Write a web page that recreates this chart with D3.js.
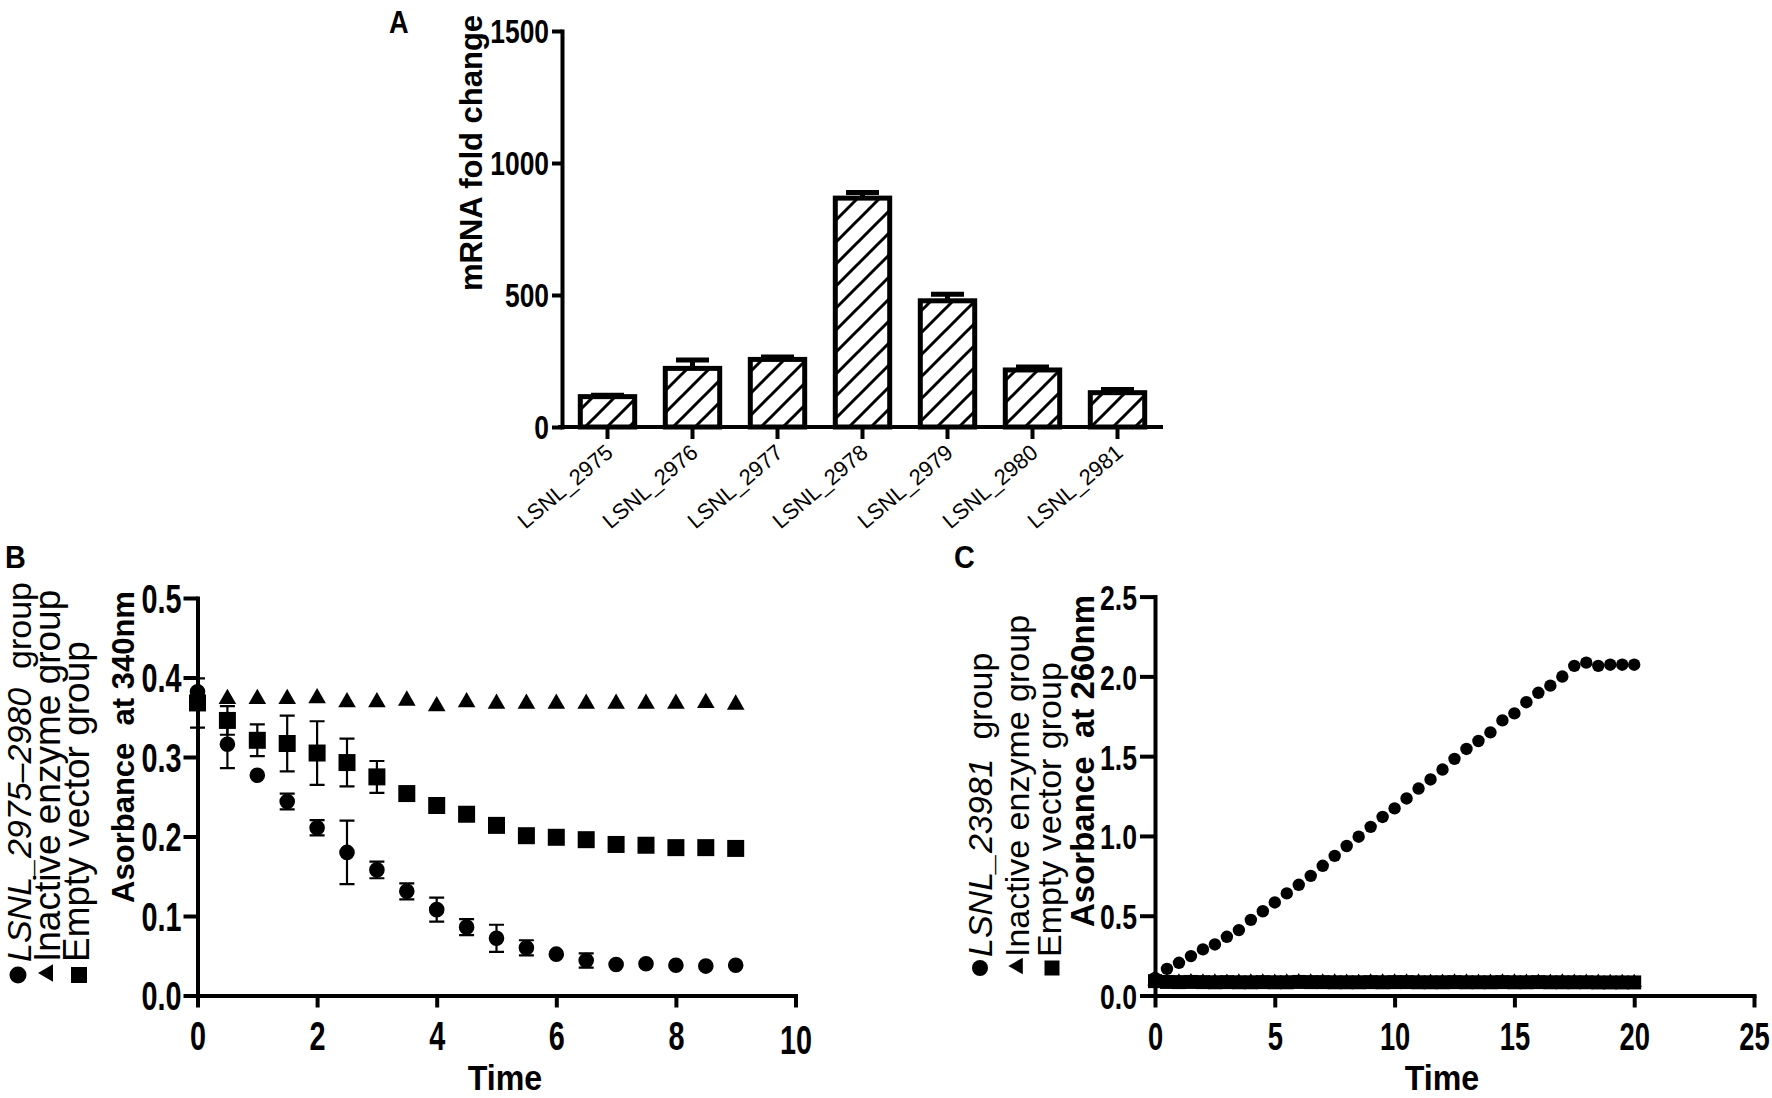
<!DOCTYPE html>
<html>
<head>
<meta charset="utf-8">
<script src="https://cdn.jsdelivr.net/npm/d3@7"></script>
<style>
  body { margin: 0; background: #fff; }
  svg { display: block; }
  text { font-family: "Liberation Sans", Arial, sans-serif; fill: #000; }
</style>
</head>
<body>
<svg id="fig" width="1772" height="1098"></svg>
<script>
// ---- panel A: mRNA fold change ----
const genes = ['LSNL_2975', 'LSNL_2976', 'LSNL_2977', 'LSNL_2978', 'LSNL_2979', 'LSNL_2980', 'LSNL_2981'];
const foldChange = [115, 222, 256, 867, 478, 216, 130];
const foldErr = [5, 32, 9, 21, 25, 11, 12];
const ticksA = [0, 500, 1000, 1500];

// ---- panel B: absorbance at 340nm ----
const timeB = [0, 0.5, 1, 1.5, 2, 2.5, 3, 3.5, 4, 4.5, 5, 5.5, 6, 6.5, 7, 7.5, 8, 8.5, 9];
const activeB = [0.382, 0.316, 0.277, 0.244, 0.211, 0.180, 0.158, 0.131, 0.108, 0.086, 0.072, 0.060, 0.052, 0.044, 0.039, 0.040, 0.038, 0.037, 0.038];
const activeErrB = [0, 0.030, 0, 0.010, 0.0095, 0.040, 0.0105, 0.010, 0.015, 0.010, 0.017, 0.0095, 0, 0.009, 0, 0, 0, 0, 0];
const inactiveB = [0.375, 0.373, 0.373, 0.373, 0.374, 0.369, 0.369, 0.371, 0.364, 0.369, 0.367, 0.367, 0.367, 0.367, 0.367, 0.367, 0.367, 0.368, 0.366];
const emptyB = [0.368, 0.346, 0.321, 0.317, 0.305, 0.293, 0.275, 0.254, 0.239, 0.228, 0.214, 0.201, 0.199, 0.196, 0.190, 0.189, 0.186, 0.186, 0.185];
const emptyErrB = [0.031, 0.018, 0.020, 0.035, 0.040, 0.030, 0.020, 0, 0, 0, 0, 0, 0, 0, 0, 0, 0, 0, 0];
const ticksBy = [0, 0.1, 0.2, 0.3, 0.4, 0.5];
const ticksBx = [0, 2, 4, 6, 8, 10];

// ---- panel C: absorbance at 260nm ----
const timeC = [0, 0.5, 1, 1.5, 2, 2.5, 3, 3.5, 4, 4.5, 5, 5.5, 6, 6.5, 7, 7.5, 8, 8.5, 9, 9.5, 10,
  10.5, 11, 11.5, 12, 12.5, 13, 13.5, 14, 14.5, 15, 15.5, 16, 16.5, 17, 17.5, 18, 18.5, 19, 19.5, 20];
const activeC = [0.11, 0.167, 0.205, 0.247, 0.289, 0.32, 0.368, 0.41, 0.474, 0.528, 0.583, 0.64, 0.694, 0.75, 0.813,
  0.875, 0.937, 0.995, 1.057, 1.119, 1.173, 1.235, 1.297, 1.354, 1.416, 1.483, 1.545, 1.595, 1.649, 1.724, 1.768,
  1.838, 1.897, 1.942, 1.999, 2.066, 2.086, 2.066, 2.073, 2.073, 2.073];
const inactiveC = [0.09, 0.085, 0.085, 0.086, 0.085, 0.084, 0.083, 0.084, 0.085, 0.084, 0.083, 0.084, 0.086, 0.085, 0.084,
  0.084, 0.083, 0.083, 0.084, 0.085, 0.085, 0.084, 0.084, 0.083, 0.083, 0.084, 0.084, 0.083, 0.083, 0.084, 0.084,
  0.083, 0.083, 0.083, 0.084, 0.083, 0.083, 0.083, 0.082, 0.082, 0.082];
const emptyC = [0.09, 0.085, 0.084, 0.085, 0.084, 0.083, 0.084, 0.083, 0.083, 0.084, 0.083, 0.083, 0.085, 0.084, 0.084,
  0.083, 0.083, 0.083, 0.084, 0.083, 0.084, 0.084, 0.083, 0.083, 0.083, 0.084, 0.083, 0.083, 0.083, 0.084, 0.083,
  0.083, 0.084, 0.083, 0.083, 0.083, 0.083, 0.082, 0.082, 0.082, 0.082];
const ticksCy = [0, 0.5, 1, 1.5, 2, 2.5];
const ticksCx = [0, 5, 10, 15, 20, 25];

const svg = d3.select('#fig');
const FONT = '"Liberation Sans", Arial, sans-serif';

function label(g, x, y, str, o) {
  return g.append('text')
    .attr('transform', `translate(${x},${y}) rotate(${o.rotate || 0}) scale(${o.narrow || 1},1)`)
    .attr('text-anchor', o.anchor || 'start')
    .style('font-size', o.size + 'px')
    .style('font-weight', o.bold ? 'bold' : 'normal')
    .style('white-space', 'pre')
    .text(str);
}

function styleAxis(g, width) {
  g.selectAll('path, line').attr('stroke', '#000').attr('stroke-width', width);
  g.select('.domain').attr('stroke-linecap', 'square');
}

function leftTicks(g, size, n, off) {
  g.selectAll('.tick text')
    .attr('transform', `scale(${n},1)`)
    .attr('x', -off / n)
    .attr('dy', '0.36em')
    .style('font-size', size + 'px')
    .style('font-weight', 'bold')
    .style('font-family', FONT);
}

function bottomTicks(g, size, n, base) {
  g.selectAll('.tick text')
    .attr('transform', `scale(${n},1)`)
    .attr('y', base)
    .attr('dy', 0)
    .style('font-size', size + 'px')
    .style('font-weight', 'bold')
    .style('font-family', FONT);
}

// ================= A =================
const defs = svg.append('defs');
defs.append('pattern')
  .attr('id', 'hatch')
  .attr('patternUnits', 'userSpaceOnUse')
  .attr('width', 22).attr('height', 22)
  .append('path')
  .attr('d', 'M-5,5L5,-5M-5,27L27,-5M17,27L27,17')
  .attr('stroke', '#000')
  .attr('stroke-width', 3);

const xA = d3.scaleBand().domain(genes).range([565, 1160]).paddingInner(0.36).paddingOuter(0.18);
const yA = d3.scaleLinear().domain([0, 1500]).range([427, 31]);
const gA = svg.append('g');

const axAy = gA.append('g').attr('transform', 'translate(562,0)')
  .call(d3.axisLeft(yA).tickValues(ticksA).tickSize(10).tickSizeOuter(0).tickFormat(d3.format('d')));
styleAxis(axAy, 4);
leftTicks(axAy, 33, 0.8, 13);

const axAx = gA.append('g').attr('transform', `translate(0,${yA(0)})`)
  .call(d3.axisBottom(xA).tickSize(12).tickSizeOuter(0));
styleAxis(axAx, 4);
axAx.select('.domain').attr('d', 'M560,0H1161');
axAx.selectAll('.tick text')
  .attr('transform', 'translate(7,28) rotate(-40)')
  .attr('x', 0).attr('y', 0).attr('dy', 0)
  .attr('text-anchor', 'end')
  .style('font-size', '22px')
  .style('font-family', FONT);

const barsA = gA.append('g');
genes.forEach((gname, i) => {
  const cx = xA(gname) + xA.bandwidth() / 2;
  const top = yA(foldChange[i] + foldErr[i]);
  barsA.append('path')
    .attr('d', `M${cx},${yA(foldChange[i])}V${top}M${cx - 16.5},${top}H${cx + 16.5}`)
    .attr('stroke', '#000').attr('stroke-width', 5).attr('fill', 'none');
  barsA.append('rect')
    .attr('x', xA(gname))
    .attr('y', yA(foldChange[i]))
    .attr('width', xA.bandwidth())
    .attr('height', yA(0) - yA(foldChange[i]))
    .attr('fill', 'url(#hatch)')
    .attr('stroke', '#000')
    .attr('stroke-width', 5);
});

label(gA, 482, 153, 'mRNA fold change', { size: 31, bold: true, rotate: -90, anchor: 'middle' });
label(gA, 389, 33, 'A', { size: 32, bold: true, narrow: 0.85 });

// ================= B =================
const xB = d3.scaleLinear().domain([0, 10]).range([197.5, 795.5]);
const yB = d3.scaleLinear().domain([0, 0.5]).range([995.5, 598]);
const gB = svg.append('g');

const axBy = gB.append('g').attr('transform', `translate(${xB(0)},0)`)
  .call(d3.axisLeft(yB).tickValues(ticksBy).tickSize(14).tickSizeOuter(0).tickFormat(d3.format('.1f')));
styleAxis(axBy, 4);
leftTicks(axBy, 40, 0.72, 16);

const axBx = gB.append('g').attr('transform', `translate(0,${yB(0)})`)
  .call(d3.axisBottom(xB).tickValues(ticksBx).tickSize(12).tickSizeOuter(0));
styleAxis(axBx, 4);
bottomTicks(axBx, 40, 0.72, 55);
axBx.selectAll('.tick text').filter((d) => d === 10).attr('y', 59);

const sym = (type, size) => d3.symbol(type, size)();

function errorBars(g, xs, ys, es, x, y, cap) {
  xs.forEach((t, i) => {
    if (!es[i]) return;
    const cx = x(t);
    const lo = y(ys[i] - es[i]);
    const hi = y(ys[i] + es[i]);
    g.append('path')
      .attr('d', `M${cx},${lo}V${hi}M${cx - cap},${lo}H${cx + cap}M${cx - cap},${hi}H${cx + cap}`)
      .attr('stroke', '#000').attr('stroke-width', 2.2).attr('fill', 'none');
  });
}

function markers(g, xs, ys, x, y, path) {
  g.append('g').selectAll('path')
    .data(xs)
    .join('path')
    .attr('d', path)
    .attr('transform', (t, i) => `translate(${x(t)},${y(ys[i])})`)
    .attr('fill', '#000');
}

const plotB = gB.append('g');
errorBars(plotB, timeB, emptyB, emptyErrB, xB, yB, 7.5);
errorBars(plotB, timeB, activeB, activeErrB, xB, yB, 7.5);
markers(plotB, timeB, emptyB, xB, yB, sym(d3.symbolSquare, 17 * 17));
markers(plotB, timeB, inactiveB, xB, yB, sym(d3.symbolTriangle, 135));
markers(plotB, timeB, activeB, xB, yB, sym(d3.symbolCircle, Math.PI * 7.8 * 7.8));

label(gB, 505, 1090, 'Time', { size: 35, bold: true, narrow: 0.92, anchor: 'middle' });
label(gB, 134, 747, 'Asorbance  at 340nm', { size: 31, bold: true, rotate: -90, anchor: 'middle' });
label(gB, 5, 568, 'B', { size: 32, bold: true, narrow: 0.9 });

// legend B (rotated)
const legB = gB.append('g');
const lb1 = label(legB, 31, 962, '', { size: 34, rotate: -90 });
lb1.append('tspan').style('font-style', 'italic').text('LSNL_2975\u20132980');
lb1.append('tspan').text('  group');
label(legB, 60, 962, 'Inactive enzyme group', { size: 37, rotate: -90 });
label(legB, 89, 962, 'Empty vector group', { size: 37, rotate: -90 });
legB.append('path').attr('d', sym(d3.symbolCircle, Math.PI * 8.5 * 8.5)).attr('transform', 'translate(18,975)');
legB.append('path').attr('d', sym(d3.symbolTriangle, 130)).attr('transform', 'translate(48,973) rotate(-90)');
legB.append('path').attr('d', sym(d3.symbolSquare, 16 * 16)).attr('transform', 'translate(79,975)');

// ================= C =================
const xC = d3.scaleLinear().domain([0, 25]).range([1155, 1754]);
const yC = d3.scaleLinear().domain([0, 2.5]).range([995.5, 596.6]);
const gC = svg.append('g');

const axCy = gC.append('g').attr('transform', `translate(${xC(0)},0)`)
  .call(d3.axisLeft(yC).tickValues(ticksCy).tickSize(15).tickSizeOuter(0).tickFormat(d3.format('.1f')));
styleAxis(axCy, 4);
leftTicks(axCy, 36, 0.74, 18);

const axCx = gC.append('g').attr('transform', `translate(0,${yC(0)})`)
  .call(d3.axisBottom(xC).tickValues(ticksCx).tickSize(12).tickSizeOuter(0));
styleAxis(axCx, 4);
bottomTicks(axCx, 38, 0.72, 55);

const plotC = gC.append('g');
markers(plotC, timeC, inactiveC, xC, yC, sym(d3.symbolTriangle, 100));
markers(plotC, timeC, emptyC, xC, yC, sym(d3.symbolSquare, 14 * 14));
markers(plotC, timeC, activeC, xC, yC, sym(d3.symbolCircle, Math.PI * 6.2 * 6.2));

label(gC, 1442, 1090, 'Time', { size: 35, bold: true, narrow: 0.92, anchor: 'middle' });
label(gC, 1094, 761, 'Asorbance  at 260nm', { size: 33, bold: true, rotate: -90, anchor: 'middle' });
label(gC, 954, 568, 'C', { size: 32, bold: true, narrow: 0.9 });

const legC = gC.append('g');
const lc1 = label(legC, 992, 957, '', { size: 34, rotate: -90 });
lc1.append('tspan').style('font-style', 'italic').text('LSNL_23981');
lc1.append('tspan').text('  group');
label(legC, 1029, 957, 'Inactive enzyme group', { size: 34, rotate: -90 });
label(legC, 1061, 957, 'Empty vector group', { size: 34, rotate: -90 });
legC.append('path').attr('d', sym(d3.symbolCircle, Math.PI * 8 * 8)).attr('transform', 'translate(980,968)');
legC.append('path').attr('d', sym(d3.symbolTriangle, 120)).attr('transform', 'translate(1018,966) rotate(-90)');
legC.append('path').attr('d', sym(d3.symbolSquare, 15 * 15)).attr('transform', 'translate(1052,968)');
</script>
</body>
</html>
